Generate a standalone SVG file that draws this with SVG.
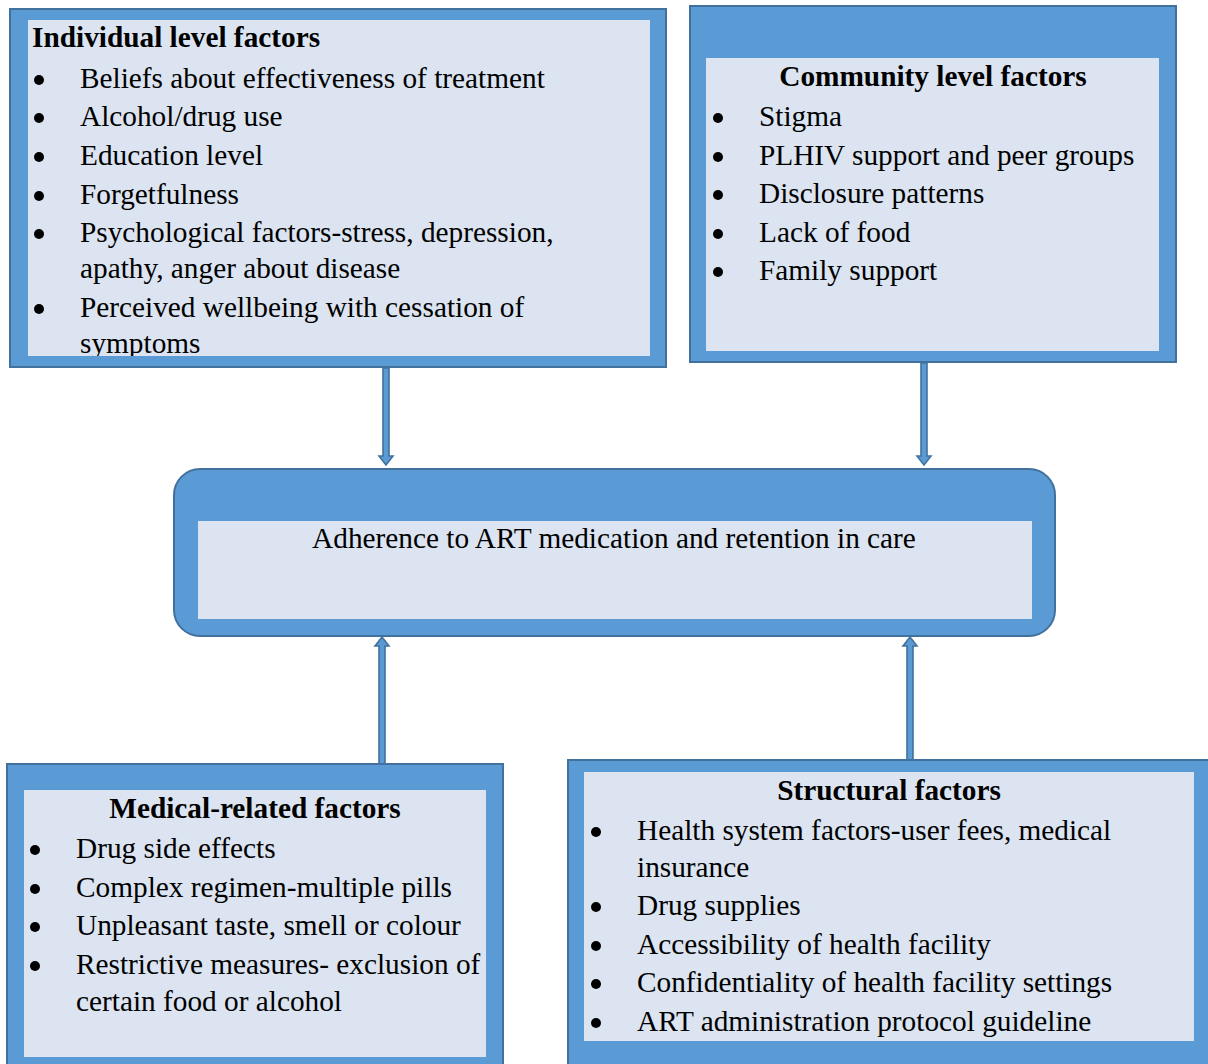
<svg xmlns="http://www.w3.org/2000/svg" width="1208" height="1064" viewBox="0 0 1208 1064">
<style>
.outer{fill:#5b9bd5;stroke:#41719c;stroke-width:2}
.inner{fill:#dbe4f0}
.t{font-family:"Liberation Serif","Times New Roman",serif;font-size:29.3px;fill:#000}
.b{font-weight:bold}
.m{text-anchor:middle}
.arrow{fill:#5b9bd5;stroke:#41719c;stroke-width:1.6;stroke-linejoin:miter}
</style>
<defs>
<clipPath id="c1"><rect x="28" y="20" width="622" height="336"/></clipPath>
</defs>
<rect width="1208" height="1064" fill="#fff"/>
<g id="connectors">
<path class="arrow" d="M383,368 L389,368 L389,456 L393,456 L386,465 L379,456 L383,456 Z"/>
<path class="arrow" d="M921,363 L927,363 L927,456 L931,456 L924,465 L917,456 L921,456 Z"/>
<path class="arrow" d="M379,764 L385,764 L385,646 L389,646 L382,637 L375,646 L379,646 Z"/>
<path class="arrow" d="M907,760 L913,760 L913,646 L917,646 L910,637 L903,646 L907,646 Z"/>
</g>
<g id="individual">
<rect class="outer" x="10" y="9" width="656" height="358"/>
<rect class="inner" x="28" y="20" width="622" height="336"/>
<g clip-path="url(#c1)">
<text class="t b" x="32" y="47">Individual level factors</text>
<circle cx="39" cy="80" r="5"/><text class="t" x="80" y="88">Beliefs about effectiveness of treatment</text>
<circle cx="39" cy="118" r="5"/><text class="t" x="80" y="126">Alcohol/drug use</text>
<circle cx="39" cy="157" r="5"/><text class="t" x="80" y="165">Education level</text>
<circle cx="39" cy="196" r="5"/><text class="t" x="80" y="204">Forgetfulness</text>
<circle cx="39" cy="234" r="5"/><text class="t" x="80" y="242">Psychological factors-stress, depression,</text>
<text class="t" x="80" y="278">apathy, anger about disease</text>
<circle cx="39" cy="309" r="5"/><text class="t" x="80" y="317">Perceived wellbeing with cessation of</text>
<text class="t" x="80" y="353">symptoms</text>
</g>
</g>
<g id="community">
<rect class="outer" x="690" y="6" width="486" height="356"/>
<rect class="inner" x="706" y="58" width="453" height="293"/>
<text class="t b m" x="933" y="86">Community level factors</text>
<circle cx="718" cy="118" r="5"/><text class="t" x="759" y="126">Stigma</text>
<circle cx="718" cy="157" r="5"/><text class="t" x="759" y="165">PLHIV support and peer groups</text>
<circle cx="718" cy="195" r="5"/><text class="t" x="759" y="203">Disclosure patterns</text>
<circle cx="718" cy="234" r="5"/><text class="t" x="759" y="242">Lack of food</text>
<circle cx="718" cy="272" r="5"/><text class="t" x="759" y="280">Family support</text>
</g>
<g id="adherence">
<rect class="outer" x="174" y="469" width="881" height="167" rx="26" ry="26"/>
<rect class="inner" x="198" y="521" width="834" height="98"/>
<text class="t m" x="614" y="548">Adherence to ART medication and retention in care</text>
</g>
<g id="medical">
<rect class="outer" x="7" y="764" width="496" height="310"/>
<rect class="inner" x="24" y="790" width="462" height="267"/>
<text class="t b m" x="255" y="818">Medical-related factors</text>
<circle cx="35" cy="850" r="5"/><text class="t" x="76" y="858">Drug side effects</text>
<circle cx="35" cy="889" r="5"/><text class="t" x="76" y="897">Complex regimen-multiple pills</text>
<circle cx="35" cy="927" r="5"/><text class="t" x="76" y="935">Unpleasant taste, smell or colour</text>
<circle cx="35" cy="966" r="5"/><text class="t" x="76" y="974">Restrictive measures- exclusion of</text>
<text class="t" x="76" y="1011">certain food or alcohol</text>
</g>
<g id="structural">
<rect class="outer" x="568" y="760" width="650" height="310"/>
<rect class="inner" x="584" y="772" width="610" height="269"/>
<text class="t b m" x="889" y="800">Structural factors</text>
<circle cx="596" cy="832" r="5"/><text class="t" x="637" y="840">Health system factors-user fees, medical</text>
<text class="t" x="637" y="877">insurance</text>
<circle cx="596" cy="907" r="5"/><text class="t" x="637" y="915">Drug supplies</text>
<circle cx="596" cy="946" r="5"/><text class="t" x="637" y="954">Accessibility of health facility</text>
<circle cx="596" cy="984" r="5"/><text class="t" x="637" y="992">Confidentiality of health facility settings</text>
<circle cx="596" cy="1023" r="5"/><text class="t" x="637" y="1031">ART administration protocol guideline</text>
</g>
</svg>
